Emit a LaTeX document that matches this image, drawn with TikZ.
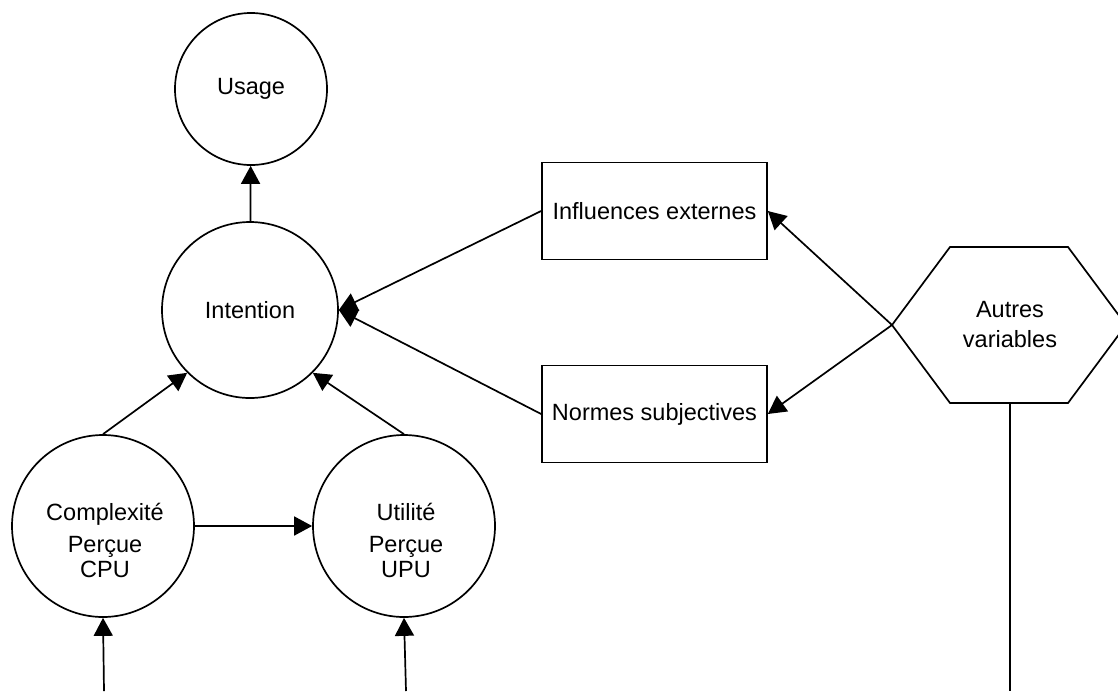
\documentclass[tikz,border=0pt]{standalone}
\usepackage{fontspec}
\setmainfont{Liberation Sans}
\usetikzlibrary{arrows.meta}
\usetikzlibrary{calc}

\tikzset{rond/.style={draw, circle, inner sep=0pt, align=center},
         boite/.style={draw, minimum width=225pt, minimum height=97pt, inner sep=0pt}}

\begin{document}
\begin{tikzpicture} [x=1pt, y=-1pt, line width=1.7pt, >={Triangle[length=18pt,width=19pt]},
  font=\fontsize{23.5}{25}\selectfont]
\clip (0,0) rectangle (1118,691);
\node[rond, minimum size=152pt] (usage) at (251,89) {Usage};
\node[rond, minimum size=176pt] (intention) at (250,310) {Intention};
\node[rond, minimum size=182pt] (cpu) at (103,526) {};
\node[rond, minimum size=182pt] (upu) at (404,526) {};
\node[align=center] (cpul) at (105,540) {Complexité\\[7pt]Perçue\\CPU};
\node[align=center] (upul) at (406,540) {Utilité\\[7pt]Perçue\\UPU};
\node[boite] (infl) at (654.5,211) {Influences externes};
\node[boite] (norm) at (654.5,414) {Normes subjectives};
\draw (892,325) coordinate (hexw) -- (950,247) -- (1068,247) -- (1126,325) -- (1068,403) -- (950,403) -- cycle;
\node[align=center] (autres) at (1010,325) {Autres\\[5pt]variables};
\coordinate (hexs) at (1010,403);
\coordinate (bas1) at (104,691);
\coordinate (bas2) at (406,691);
\coordinate (bas3) at (1010,691);
\draw[->] (intention) -- (usage);
\draw[->] (cpu.north) -- (intention.225);
\draw[->] (upu.north) -- (intention.-45);
\draw[->] (cpu) -- (upu);
\draw[->] (infl.west) -- (intention.east);
\draw[->] (norm.west) -- (intention.east);
\draw[->] (hexw) -- (infl.east);
\draw[->] (hexw) -- (norm.east);
\draw[->] (bas1) -- (cpu.south);
\draw[->] (bas2) -- (upu.south);
\draw (hexs) -- (bas3);
\end{tikzpicture}
\end{document}
